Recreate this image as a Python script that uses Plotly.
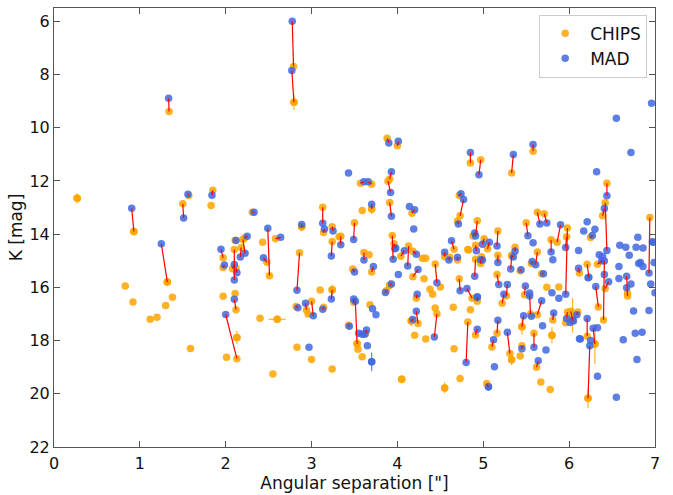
import plotly.graph_objects as go

# ---- matched pairs: CHIPS (x, K) and MAD (x, K) joined by a red line ----
pair_chips_x = [0.93, 1.34, 1.32, 1.50, 1.57, 1.85, 2.79, 2.795, 2.31, 2.885, 3.13, 3.14, 3.24, 2.51, 2.58,
                2.22, 2.11, 1.97, 1.97, 2.10, 2.08, 2.12, 2.18, 2.20, 2.48, 2.86, 2.82, 2.12, 2.13, 2.94,
                3.00, 3.14, 3.24, 3.88, 4.00, 3.57, 3.70, 3.91, 3.89, 3.91, 3.70, 3.34, 3.50, 3.24, 3.61,
                3.94, 3.96, 4.04, 4.13, 4.85, 4.97, 5.33, 5.58, 4.72, 4.73, 4.70, 4.17, 4.93, 4.88, 5.17,
                5.50, 5.01, 5.05, 4.91, 4.66, 4.55, 4.70, 4.61, 5.17, 5.33, 5.37, 4.97, 5.56, 6.44, 6.42,
                6.39, 5.63, 5.71, 5.86, 5.98, 5.97, 5.79, 5.63, 6.25, 6.94, 6.68, 6.22, 6.30, 6.21, 5.81,
                5.63, 5.62, 6.10, 6.02, 5.98, 6.33, 6.40, 6.42, 6.12, 6.21, 3.70, 3.48, 3.53, 3.49, 3.63,
                3.87, 3.91, 4.18, 4.18, 4.44, 4.22, 4.24, 4.16, 4.46, 4.72, 4.87, 4.93, 4.82, 4.91, 4.91,
                4.98, 5.04, 5.10, 5.16, 5.16, 5.22, 5.27, 5.31, 5.33, 5.43, 5.45, 5.45, 5.48, 5.59, 5.55,
                5.68, 6.34, 3.43]
pair_chips_k = [13.90, 9.39, 15.80, 12.86, 12.55, 12.35, 7.70, 9.04, 13.18, 13.72, 12.99, 13.94, 13.72, 15.56, 14.17,
                14.14, 14.23, 14.89, 15.25, 14.58, 15.30, 15.28, 14.50, 14.20, 15.06, 14.70, 16.72, 16.84, 18.68, 16.85,
                16.52, 16.75, 16.09, 10.40, 10.68, 12.09, 12.12, 11.93, 12.01, 12.81, 13.05, 14.08, 13.57, 14.28, 14.69,
                14.05, 14.36, 14.83, 14.45, 11.33, 11.20, 11.70, 10.88, 12.55, 13.31, 13.51, 13.21, 13.50, 14.07, 13.88,
                13.57, 14.17, 14.55, 14.42, 14.57, 14.85, 14.97, 14.87, 14.79, 14.80, 14.49, 15.10, 15.10, 12.09, 12.82,
                13.31, 13.18, 13.23, 14.30, 13.77, 14.10, 14.21, 14.67, 14.13, 13.37, 16.32, 20.17, 18.13, 17.84, 17.23,
                17.03, 19.00, 16.93, 16.90, 16.93, 15.13, 17.23, 16.04, 15.46, 15.13, 15.42, 15.31, 18.12, 16.56, 17.72,
                16.13, 15.92, 14.64, 15.60, 15.12, 16.41, 17.36, 17.26, 16.99, 15.68, 16.41, 16.52, 17.30, 17.79, 14.94,
                14.85, 19.61, 18.24, 15.52, 17.72, 16.60, 16.32, 18.49, 14.81, 15.38, 18.19, 17.48, 16.28, 17.72, 17.00,
                15.49, 16.74, 17.42]
pair_mad_x = [0.905, 1.335, 1.25, 1.51, 1.56, 1.84, 2.775, 2.77, 2.33, 2.885, 3.13, 3.15, 3.25, 2.49, 2.64,
              2.25, 2.12, 1.945, 1.985, 2.10, 2.10, 2.13, 2.17, 2.225, 2.44, 2.83, 2.84, 2.10, 2.00, 2.93,
              3.02, 3.13, 3.23, 3.90, 4.01, 3.61, 3.66, 3.93, 3.92, 3.93, 3.70, 3.34, 3.49, 3.23, 3.61,
              3.95, 3.98, 4.08, 4.12, 4.85, 4.95, 5.35, 5.58, 4.74, 4.77, 4.71, 4.20, 4.91, 4.90, 5.16,
              5.52, 4.99, 5.07, 4.92, 4.63, 4.55, 4.70, 4.60, 5.17, 5.35, 5.37, 4.97, 5.57, 6.44, 6.44,
              6.41, 5.66, 5.74, 5.90, 5.96, 5.96, 5.79, 5.61, 6.27, 6.93, 6.67, 6.24, 6.28, 6.21, 5.82,
              5.68, 5.64, 6.09, 6.04, 5.97, 6.38, 6.41, 6.46, 6.11, 6.23, 3.72, 3.50, 3.51, 3.49, 3.64,
              3.86, 3.93, 4.22, 4.24, 4.46, 4.23, 4.22, 4.18, 4.43, 4.73, 4.81, 4.93, 4.80, 4.93, 4.90,
              4.99, 5.06, 5.12, 5.18, 5.17, 5.24, 5.28, 5.28, 5.32, 5.44, 5.45, 5.47, 5.49, 5.59, 5.54,
              5.70, 6.31, 3.44]
pair_mad_k = [13.03, 8.89, 14.36, 13.39, 12.50, 12.54, 6.00, 7.85, 13.18, 13.64, 13.59, 13.81, 13.88, 13.78, 14.12,
              14.08, 14.24, 14.57, 15.16, 15.72, 15.14, 15.45, 14.86, 14.72, 14.89, 16.11, 16.77, 16.45, 17.02, 16.60,
              17.07, 16.82, 16.44, 10.57, 10.51, 12.03, 12.03, 11.65, 12.43, 13.33, 12.88, 14.40, 14.20, 14.82, 14.97,
              14.94, 14.52, 14.62, 15.20, 10.93, 11.77, 11.01, 10.63, 12.48, 12.70, 13.62, 13.08, 14.07, 13.96, 14.45,
              14.06, 14.38, 14.30, 14.62, 14.25, 14.68, 14.87, 14.97, 15.07, 14.86, 14.64, 14.96, 15.03, 12.56, 14.61,
              13.04, 13.62, 13.58, 13.65, 16.26, 14.50, 14.67, 15.15, 14.05, 15.46, 15.58, 18.19, 17.54, 17.17, 16.96,
              16.50, 18.76, 17.03, 17.25, 17.17, 15.00, 15.01, 15.79, 15.28, 15.62, 15.22, 15.42, 16.52, 16.44, 17.60,
              16.19, 15.87, 14.76, 15.33, 15.83, 16.26, 16.90, 17.21, 17.87, 16.13, 16.04, 16.37, 18.82, 17.57, 15.58,
              14.97, 19.74, 17.97, 15.89, 17.24, 16.26, 15.89, 17.69, 15.31, 15.34, 18.31, 17.07, 15.95, 18.25, 16.32,
              15.49, 15.97, 17.46]

# ---- CHIPS sources without a MAD counterpart ----
solo_chips_x = [0.27, 0.83, 0.92, 1.12, 1.20, 1.30, 1.38, 1.59, 1.83, 1.97, 2.11, 2.01, 2.13, 2.40, 2.60,
                2.55, 2.83, 3.00, 2.96, 3.10, 3.24, 2.43, 3.32, 3.59, 3.67, 3.54, 3.59, 3.68, 4.29, 4.33,
                4.31, 4.38, 4.41, 4.50, 4.44, 4.20, 4.33, 4.05, 4.55, 4.66, 4.65, 4.73, 4.82, 4.85, 4.83,
                5.43, 5.33, 5.67, 5.78, 5.80, 5.88, 5.74, 5.96, 6.04, 6.68]
solo_chips_k = [12.65, 15.95, 16.55, 17.20, 17.12, 16.68, 16.37, 18.30, 12.92, 16.33, 16.23, 18.63, 17.88, 17.16, 17.20,
                19.26, 18.25, 18.71, 17.00, 16.10, 19.07, 14.30, 14.10, 13.11, 14.77, 18.33, 18.61, 16.65, 14.91, 14.91,
                15.68, 16.07, 16.26, 15.99, 16.78, 17.80, 17.94, 19.45, 19.78, 18.31, 16.75, 19.43, 14.58, 16.84, 14.60,
                18.58, 18.72, 19.56, 19.84, 17.80, 15.99, 16.00, 17.33, 17.05, 16.22]

# ---- MAD sources without a CHIPS counterpart ----
solo_mad_x = [3.43, 4.14, 4.19, 3.97, 4.01, 3.75, 3.71, 3.55, 3.59, 3.62, 3.65, 3.70, 2.97, 5.13, 5.56,
              5.54, 5.69, 5.73, 5.80, 5.88, 5.81, 6.11, 6.13, 6.33, 6.33, 6.25, 6.55, 6.63, 6.59, 6.66,
              6.78, 6.86, 6.58, 6.58, 6.72, 6.75, 6.77, 6.85, 6.79, 6.81, 6.86, 6.93, 6.95, 6.98, 7.00,
              6.72, 6.55, 6.96, 6.32, 6.21, 6.17, 6.30, 6.35, 6.39, 6.80, 6.97, 6.67, 6.41, 6.22, 6.05,
              6.01, 6.12, 6.70, 6.83, 6.99, 5.58, 4.93]
solo_mad_k = [11.70, 12.96, 13.81, 14.55, 15.52, 17.03, 16.80, 17.72, 17.76, 17.76, 18.19, 18.80, 18.25, 18.98, 17.09,
              16.21, 17.44, 18.35, 16.20, 16.41, 14.96, 14.61, 17.94, 19.34, 17.52, 18.00, 20.13, 17.97, 14.42, 14.49,
              14.49, 14.52, 15.22, 15.67, 15.87, 16.89, 17.72, 17.69, 18.71, 15.10, 15.22, 16.87, 15.87, 14.30, 16.20,
              10.93, 9.64, 9.08, 11.65, 13.53, 13.88, 13.82, 14.77, 14.84, 14.12, 14.29, 16.01, 15.52, 15.64, 17.26,
              17.32, 17.93, 14.79, 15.07, 15.07, 14.32, 16.35]

# ---- visible error bars ----
err_chips_x = [0.27, 0.93, 1.32, 2.795, 2.13, 2.60, 3.24, 3.70, 3.53, 4.05, 4.55, 4.16, 5.33, 5.45, 5.80,
               6.22, 6.30, 6.04, 2.885, 3.91]
err_chips_k = [12.65, 13.90, 15.80, 9.04, 17.88, 17.20, 16.09, 13.05, 18.12, 19.45, 19.78, 17.26, 18.72, 17.48, 17.80,
               20.17, 18.13, 17.05, 13.72, 15.92]
err_chips_dk = [0.20, 0.15, 0.15, 0.30, 0.25, 0.05, 0.20, 0.20, 0.20, 0.15, 0.20, 0.20, 0.20, 0.30, 0.30,
                0.37, 0.75, 0.65, 0.15, 0.20]
err_chips_dx = [0, 0, 0, 0, 0, 0.10, 0, 0, 0, 0, 0, 0, 0, 0, 0,
                0, 0, 0, 0, 0]
err_mad_x = [3.70, 5.06]
err_mad_k = [18.80, 19.74]
err_mad_dk = [0.35, 0.15]

ORANGE = "rgba(255,165,0,0.85)"
BLUE = "rgba(65,105,225,0.85)"
MSIZE = 7.5

fig = go.Figure()

# error bars (behind markers)
fig.add_trace(go.Scatter(x=err_chips_x, y=err_chips_k, mode="markers",
                         marker=dict(size=MSIZE, color=ORANGE),
                         error_y=dict(type="data", array=err_chips_dk, color=ORANGE, thickness=1.2, width=0),
                         error_x=dict(type="data", array=err_chips_dx, color=ORANGE, thickness=1.2, width=0),
                         showlegend=False, hoverinfo="skip"))
fig.add_trace(go.Scatter(x=err_mad_x, y=err_mad_k, mode="markers",
                         marker=dict(size=MSIZE, color=BLUE),
                         error_y=dict(type="data", array=err_mad_dk, color=BLUE, thickness=1.2, width=0),
                         showlegend=False, hoverinfo="skip"))

chips_x = pair_chips_x + solo_chips_x
chips_k = pair_chips_k + solo_chips_k
mad_x = pair_mad_x + solo_mad_x
mad_k = pair_mad_k + solo_mad_k

fig.add_trace(go.Scatter(x=chips_x, y=chips_k, mode="markers", name="CHIPS",
                         marker=dict(size=MSIZE, color=ORANGE, line=dict(width=0))))
fig.add_trace(go.Scatter(x=mad_x, y=mad_k, mode="markers", name="MAD",
                         marker=dict(size=MSIZE, color=BLUE, line=dict(width=0))))

# red connecting lines
lx, ly = [], []
for cx, ck, mx, mk in zip(pair_chips_x, pair_chips_k, pair_mad_x, pair_mad_k):
    lx += [mx, cx, None]
    ly += [mk, ck, None]
fig.add_trace(go.Scatter(x=lx, y=ly, mode="lines", line=dict(color="red", width=1.2),
                         showlegend=False, hoverinfo="skip"))

axis_common = dict(showgrid=False, zeroline=False, showline=True, linecolor="#555", linewidth=1,
                   mirror="ticks", ticks="inside", ticklen=6, tickcolor="#555",
                   tickfont=dict(size=16, color="#111"))

fig.update_layout(
    width=673, height=495,
    margin=dict(l=54, r=18, t=7, b=38),
    paper_bgcolor="white", plot_bgcolor="white",
    font=dict(family="DejaVu Sans", color="#111"),
    xaxis=dict(range=[0, 7], dtick=1, ticklabelstandoff=2,
               title=dict(text="Angular separation [\"]", font=dict(size=17), standoff=3),
               **axis_common),
    yaxis=dict(range=[22, 5.5], tickvals=[6, 8, 10, 12, 14, 16, 18, 20, 22],
               title=dict(text="K [mag]", font=dict(size=17), standoff=2),
               **axis_common),
    legend=dict(x=0.987, y=0.985, xanchor="right", yanchor="top",
                bgcolor="rgba(255,255,255,0.9)", bordercolor="#ccc", borderwidth=1,
                font=dict(size=17), itemwidth=40, tracegroupgap=2),
)

fig.write_html("out.html")
